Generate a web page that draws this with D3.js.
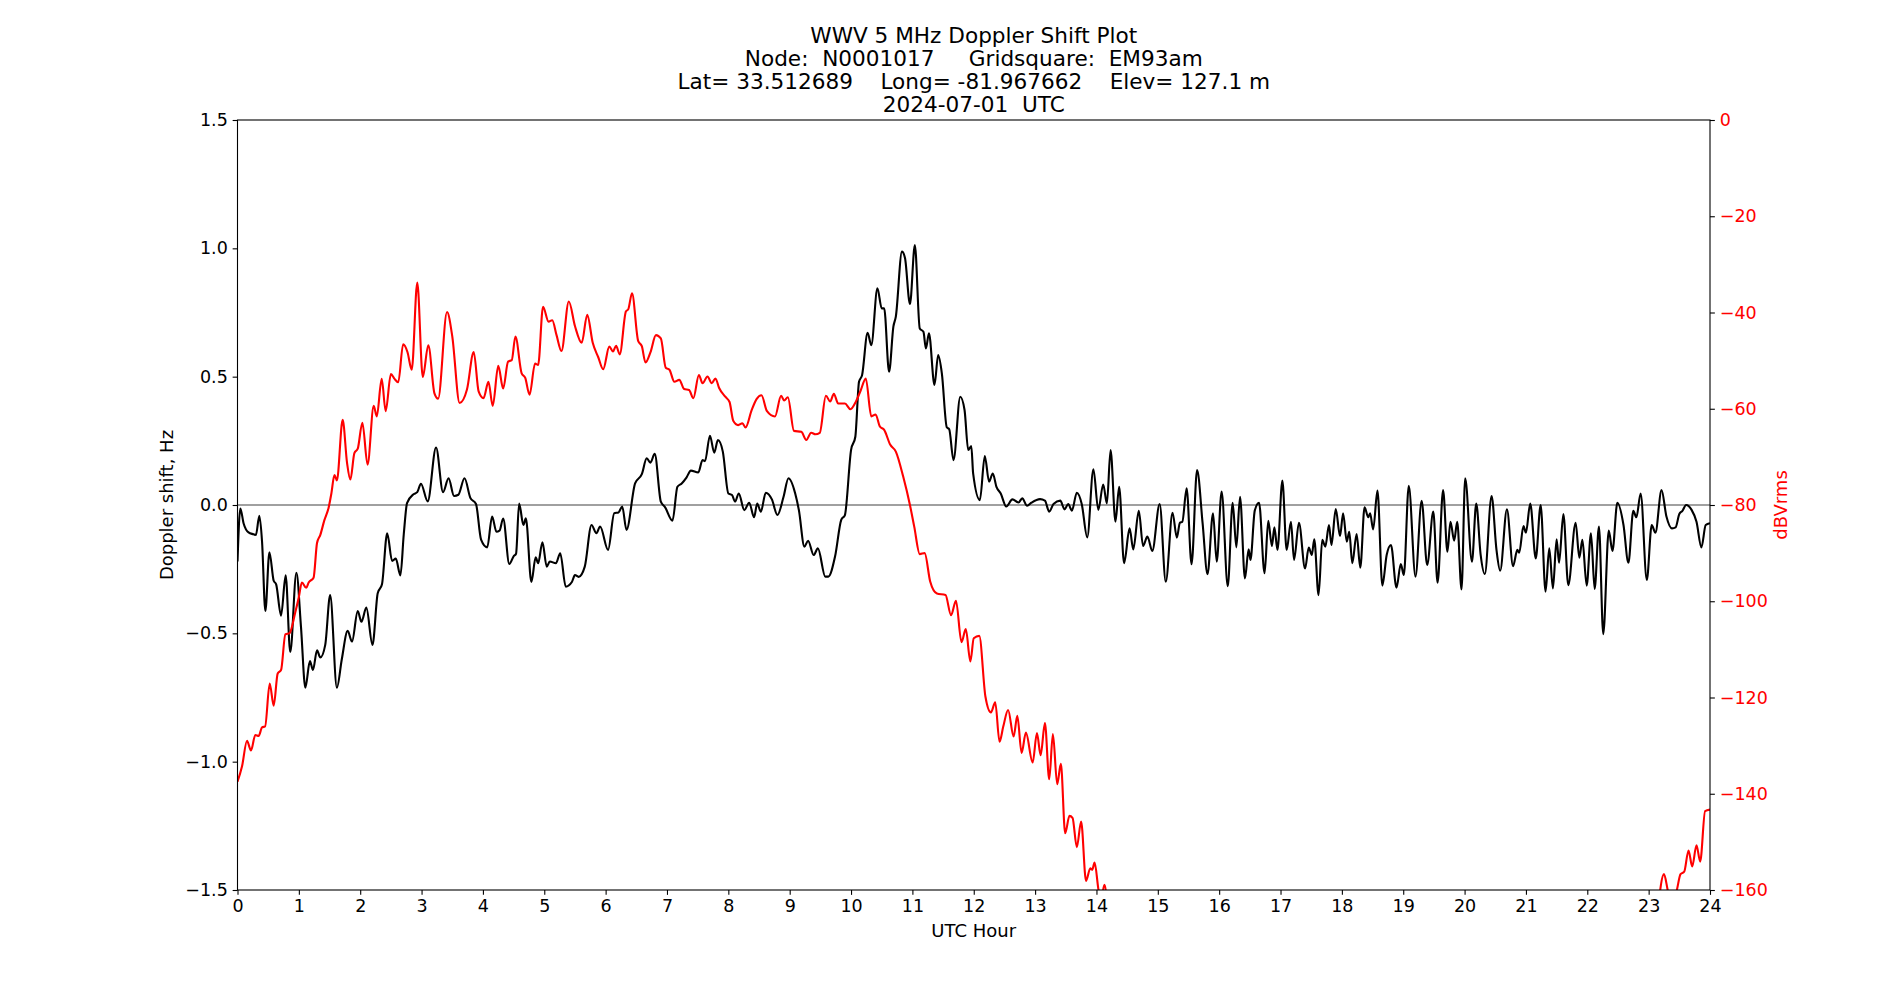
<!DOCTYPE html>
<html>
<head>
<meta charset="utf-8">
<script src="https://cdn.jsdelivr.net/npm/d3@7"></script>
<style>
  body { margin: 0; background: #fff; }
  text { font-family: "DejaVu Sans", sans-serif; }
</style>
</head>
<body>
<div id="chart"></div>
<script>
// title lines
const titleLines = [
  "WWV 5 MHz Doppler Shift Plot",
  "Node:  N0001017     Gridsquare:  EM93am",
  "Lat= 33.512689    Long= -81.967662    Elev= 127.1 m",
  "2024-07-01  UTC"
];

// doppler shift (Hz)
const dopplerHours = [0.00,0.046,0.10,0.18,0.26,0.30,0.356,0.40,0.454,0.52,0.59,0.63,0.71,0.785,0.86,0.96,1.035,1.106,1.18,1.23,1.296,1.35,1.43,1.51,1.62,1.70,1.796,1.866,1.96,2.02,2.10,2.20,2.285,2.355,2.44,2.52,2.58,2.655,2.71,2.763,2.87,2.93,2.99,3.10,3.236,3.35,3.44,3.53,3.60,3.70,3.795,3.887,3.97,4.07,4.15,4.22,4.27,4.33,4.43,4.50,4.54,4.59,4.66,4.70,4.79,4.86,4.90,4.97,5.04,5.09,5.19,5.26,5.35,5.45,5.50,5.56,5.66,5.77,5.85,5.91,6.04,6.14,6.21,6.27,6.34,6.48,6.59,6.67,6.73,6.80,6.90,6.97,7.09,7.17,7.24,7.32,7.39,7.51,7.58,7.62,7.70,7.77,7.83,7.91,8.00,8.06,8.11,8.17,8.26,8.34,8.42,8.47,8.53,8.61,8.71,8.80,8.90,8.98,9.09,9.15,9.24,9.30,9.39,9.46,9.58,9.63,9.74,9.84,9.90,10.00,10.07,10.13,10.18,10.27,10.33,10.43,10.50,10.54,10.62,10.69,10.73,10.83,10.88,10.96,11.04,11.12,11.18,11.22,11.27,11.36,11.42,11.48,11.56,11.60,11.67,11.78,11.85,11.91,11.96,11.99,12.10,12.18,12.25,12.31,12.37,12.44,12.53,12.63,12.73,12.79,12.87,12.94,13.08,13.16,13.23,13.30,13.41,13.48,13.54,13.60,13.68,13.76,13.85,13.95,14.03,14.11,14.17,14.23,14.31,14.37,14.45,14.54,14.60,14.69,14.76,14.83,14.91,15.03,15.13,15.24,15.31,15.36,15.40,15.47,15.55,15.64,15.73,15.81,15.90,15.96,16.04,16.14,16.22,16.28,16.34,16.42,16.48,16.51,16.58,16.65,16.74,16.80,16.86,16.90,16.95,17.03,17.10,17.17,17.22,17.30,17.40,17.46,17.51,17.55,17.62,17.68,17.73,17.79,17.83,17.90,17.97,18.02,18.08,18.12,18.17,18.24,18.30,18.37,18.43,18.46,18.51,18.58,18.66,18.73,18.80,18.89,18.96,19.01,19.09,19.20,19.30,19.39,19.49,19.56,19.65,19.72,19.77,19.83,19.88,19.95,20.01,20.12,20.19,20.26,20.33,20.44,20.52,20.58,20.69,20.79,20.86,20.89,20.96,21.00,21.07,21.16,21.24,21.32,21.38,21.44,21.50,21.54,21.61,21.69,21.81,21.87,21.92,21.99,22.06,22.12,22.19,22.26,22.35,22.41,22.49,22.59,22.67,22.75,22.80,22.87,22.97,23.05,23.11,23.21,23.29,23.38,23.44,23.50,23.55,23.61,23.70,23.78,23.86,23.93,24.00];
const dopplerHz = [-0.22,-0.014,-0.072,-0.107,-0.114,-0.117,-0.042,-0.142,-0.413,-0.184,-0.295,-0.309,-0.431,-0.274,-0.573,-0.264,-0.476,-0.712,-0.608,-0.643,-0.566,-0.594,-0.545,-0.351,-0.712,-0.601,-0.49,-0.532,-0.413,-0.455,-0.40,-0.545,-0.344,-0.309,-0.11,-0.218,-0.209,-0.274,-0.114,0.007,0.042,0.05,0.083,0.014,0.224,0.05,0.104,0.035,0.04,0.104,0.028,0.004,-0.135,-0.165,-0.045,-0.104,-0.10,-0.053,-0.23,-0.20,-0.19,0.006,-0.078,-0.052,-0.30,-0.204,-0.227,-0.145,-0.24,-0.22,-0.227,-0.188,-0.318,-0.30,-0.273,-0.28,-0.24,-0.078,-0.11,-0.084,-0.175,-0.032,-0.029,-0.006,-0.097,0.084,0.12,0.182,0.165,0.199,0.013,-0.009,-0.061,0.071,0.084,0.108,0.134,0.127,0.175,0.171,0.27,0.204,0.253,0.208,0.045,0.039,0.013,0.045,-0.02,0.009,-0.048,0.006,-0.026,0.048,0.022,-0.039,0.032,0.104,0.045,-0.02,-0.162,-0.139,-0.195,-0.169,-0.279,-0.279,-0.20,-0.058,-0.039,0.214,0.266,0.48,0.506,0.671,0.623,0.844,0.766,0.766,0.519,0.695,0.734,0.987,0.961,0.783,1.013,0.688,0.675,0.61,0.669,0.468,0.584,0.513,0.303,0.295,0.175,0.422,0.37,0.214,0.23,0.123,0.019,0.191,0.091,0.123,0.071,0.045,-0.006,0.022,0.01,0.026,-0.003,0.009,0.023,0.017,-0.026,0.004,0.017,-0.017,0.004,-0.022,0.048,0.004,-0.126,0.139,-0.019,0.08,0.006,0.214,-0.065,0.071,-0.227,-0.091,-0.173,-0.023,-0.16,-0.123,-0.179,0.004,-0.299,-0.03,-0.127,-0.069,-0.065,0.065,-0.231,0.136,-0.071,-0.27,-0.032,-0.221,0.052,-0.316,0.009,-0.165,0.032,-0.286,-0.173,-0.214,-0.022,0.009,-0.266,-0.062,-0.16,-0.087,-0.175,0.095,-0.175,-0.065,-0.214,-0.069,-0.247,-0.166,-0.195,-0.134,-0.351,-0.136,-0.162,-0.078,-0.156,-0.016,-0.121,-0.032,-0.143,-0.104,-0.227,-0.113,-0.244,-0.009,-0.048,-0.032,-0.095,0.056,-0.314,-0.195,-0.156,-0.322,-0.23,-0.273,0.075,-0.279,0.016,-0.234,-0.026,-0.303,0.058,-0.182,-0.065,-0.139,-0.065,-0.329,0.104,-0.221,0.006,-0.19,-0.269,0.035,-0.175,-0.256,-0.017,-0.238,-0.175,-0.186,-0.082,-0.108,0.006,-0.208,0.0,-0.338,-0.169,-0.325,-0.134,-0.225,-0.035,-0.312,-0.069,-0.205,-0.136,-0.314,-0.11,-0.327,-0.084,-0.503,-0.10,-0.179,0.009,-0.078,-0.225,-0.023,-0.048,0.045,-0.292,-0.078,-0.108,0.058,-0.045,-0.091,-0.087,-0.035,-0.023,0.0,-0.019,-0.065,-0.165,-0.078,-0.071];

// received level (dBVrms); null = below the plot floor
const powerHours = [0.00,0.074,0.155,0.22,0.29,0.345,0.40,0.45,0.525,0.59,0.655,0.71,0.78,0.85,0.94,1.0,1.05,1.12,1.16,1.24,1.296,1.35,1.415,1.486,1.53,1.58,1.62,1.714,1.785,1.84,1.905,1.96,2.035,2.12,2.22,2.27,2.35,2.415,2.50,2.56,2.62,2.70,2.77,2.84,2.93,3.02,3.11,3.21,3.27,3.415,3.50,3.62,3.74,3.85,3.93,4.01,4.09,4.16,4.25,4.33,4.41,4.47,4.53,4.63,4.69,4.76,4.85,4.90,4.98,5.07,5.13,5.20,5.28,5.40,5.50,5.61,5.70,5.79,5.88,5.96,6.06,6.12,6.17,6.23,6.33,6.37,6.43,6.53,6.59,6.65,6.73,6.82,6.90,6.98,7.04,7.12,7.20,7.28,7.36,7.43,7.52,7.58,7.66,7.73,7.79,7.85,7.95,8.02,8.08,8.16,8.23,8.28,8.38,8.46,8.54,8.63,8.76,8.86,8.91,8.97,9.07,9.19,9.27,9.35,9.42,9.49,9.59,9.66,9.72,9.79,9.90,9.99,10.08,10.16,10.24,10.33,10.40,10.47,10.54,10.64,10.73,10.85,10.96,11.03,11.12,11.20,11.29,11.40,11.54,11.63,11.71,11.80,11.87,11.945,12.00,12.09,12.19,12.28,12.35,12.42,12.48,12.56,12.65,12.71,12.78,12.85,12.96,13.03,13.09,13.16,13.23,13.29,13.36,13.42,13.49,13.56,13.61,13.68,13.75,13.83,13.90,13.93,13.97,14.03,14.07,14.13,14.18,14.5,23.0,23.15,23.25,23.32,23.38,23.45,23.52,23.58,23.65,23.71,23.78,23.84,23.92,24.00];
const powerDb = [-137.5,-134.3,-129.0,-131.0,-127.8,-128.0,-126.2,-126.0,-117.1,-121.7,-115.0,-114.3,-106.9,-106.6,-102.4,-99.1,-96.1,-97.2,-96.1,-95.1,-87.9,-86.2,-83.2,-80.5,-77.6,-73.8,-74.9,-62.3,-71.2,-74.7,-69.2,-68.3,-62.9,-71.6,-59.4,-61.6,-53.8,-60.5,-52.8,-53.8,-54.5,-46.6,-48.2,-51.9,-33.8,-53.4,-46.8,-56.8,-57.9,-39.9,-44.9,-58.8,-56.0,-48.2,-56.4,-57.8,-54.4,-59.4,-51.1,-55.8,-50.2,-49.9,-45.0,-52.6,-53.6,-57.1,-50.6,-50.9,-38.8,-41.9,-41.6,-44.7,-48.0,-37.7,-42.8,-46.3,-40.5,-46.3,-49.3,-51.8,-47.1,-48.1,-46.9,-48.7,-39.8,-39.3,-36.0,-45.9,-47.0,-50.4,-48.3,-44.7,-45.4,-51.5,-51.9,-54.4,-54.0,-55.9,-56.1,-57.8,-53.0,-54.7,-53.3,-54.7,-53.7,-55.7,-57.5,-58.6,-62.5,-63.4,-63.0,-63.9,-60.3,-58.0,-57.2,-60.5,-61.6,-57.3,-58.3,-57.6,-64.6,-64.8,-66.5,-65.0,-65.3,-65.0,-57.3,-58.5,-56.9,-58.9,-58.9,-60.1,-58.5,-56.1,-53.7,-61.6,-61.2,-63.7,-64.4,-67.5,-68.9,-74.1,-80.0,-84.5,-90.2,-90.0,-95.9,-98.4,-98.7,-102.9,-99.9,-108.5,-105.8,-112.5,-107.7,-107.2,-119.8,-123.1,-121.0,-129.2,-126.1,-122.6,-128.1,-123.8,-131.5,-127.3,-133.5,-127.4,-132.0,-125.3,-137.0,-127.6,-138.0,-133.8,-148.2,-144.6,-145.0,-151.1,-145.8,-158.1,-155.5,-155.8,-154.3,-159.7,-162.5,-158.9,-164,null,null,-164,-156.7,-160.5,-162,-160.5,-156.7,-156.2,-151.8,-155.1,-150.7,-154.1,-143.6,-143.3];

const hourTicks = d3.range(0, 25, 1);
const hzTicks = [-1.5, -1.0, -0.5, 0.0, 0.5, 1.0, 1.5];
const dbTicks = [0, -20, -40, -60, -80, -100, -120, -140, -160];

const width = 1900;
const height = 1000;
const margin = { left: 237.5, right: 190, top: 120, bottom: 110 };
const innerW = width - margin.left - margin.right;
const innerH = height - margin.top - margin.bottom;
const tickFont = 17.5;
const labelFont = 18;
const titleFont = 21.6;

const svg = d3.select("#chart")
  .append("svg")
  .attr("width", width)
  .attr("height", height)
  .style("background", "#fff");

const x = d3.scaleLinear().domain([0, 24]).range([margin.left, margin.left + innerW]);
const yHz = d3.scaleLinear().domain([-1.5, 1.5]).range([margin.top + innerH, margin.top]);
const yDb = d3.scaleLinear().domain([-160, 0]).range([margin.top + innerH, margin.top]);

svg.append("clipPath").attr("id", "plot-clip")
  .append("rect")
  .attr("x", margin.left).attr("y", margin.top)
  .attr("width", innerW).attr("height", innerH);

const plot = svg.append("g").attr("clip-path", "url(#plot-clip)");

// zero reference line
plot.append("line")
  .attr("x1", margin.left).attr("x2", margin.left + innerW)
  .attr("y1", yHz(0)).attr("y2", yHz(0))
  .attr("stroke", "#808080")
  .attr("stroke-width", 1.4);

const dopplerData = dopplerHours.map((h, i) => ({ h: h, v: dopplerHz[i] }));
const powerData = powerHours.map((h, i) => ({ h: h, v: powerDb[i] }));

const dopplerLine = d3.line()
  .x(d => x(d.h))
  .y(d => yHz(d.v))
  .curve(d3.curveMonotoneX);

const powerLine = d3.line()
  .defined(d => d.v != null)
  .x(d => x(d.h))
  .y(d => yDb(d.v))
  .curve(d3.curveMonotoneX);

plot.append("path")
  .datum(dopplerData)
  .attr("d", dopplerLine)
  .attr("fill", "none")
  .attr("stroke", "#000")
  .attr("stroke-width", 2.1)
  .attr("stroke-linejoin", "round");

plot.append("path")
  .datum(powerData)
  .attr("d", powerLine)
  .attr("fill", "none")
  .attr("stroke", "#ff0000")
  .attr("stroke-width", 2.1)
  .attr("stroke-linejoin", "round");

// axes
const tickLen = 4.86;

function styleAxis(g, color) {
  g.select(".domain").remove();
  g.selectAll(".tick line").attr("stroke", "#000").attr("stroke-width", 1.1);
  g.selectAll(".tick text")
    .attr("fill", color)
    .style("font-family", "'DejaVu Sans', sans-serif")
    .style("font-size", tickFont + "px");
}

svg.append("g")
  .attr("transform", `translate(0,${margin.top + innerH})`)
  .call(d3.axisBottom(x).tickValues(hourTicks).tickFormat(d3.format("d"))
    .tickSize(tickLen).tickPadding(tickLen))
  .call(g => styleAxis(g, "#000"));

svg.append("g")
  .attr("transform", `translate(${margin.left},0)`)
  .call(d3.axisLeft(yHz).tickValues(hzTicks).tickFormat(d3.format(".1f"))
    .tickSize(tickLen).tickPadding(tickLen))
  .call(g => styleAxis(g, "#000"));

svg.append("g")
  .attr("transform", `translate(${margin.left + innerW},0)`)
  .call(d3.axisRight(yDb).tickValues(dbTicks).tickFormat(d3.format("d"))
    .tickSize(tickLen).tickPadding(tickLen))
  .call(g => styleAxis(g, "#ff0000"));

// frame
svg.append("rect")
  .attr("x", margin.left).attr("y", margin.top)
  .attr("width", innerW).attr("height", innerH)
  .attr("fill", "none")
  .attr("stroke", "#000")
  .attr("stroke-width", 1.1);

// axis labels
svg.append("text")
  .attr("x", margin.left + innerW / 2)
  .attr("y", 937)
  .attr("text-anchor", "middle")
  .style("font-size", labelFont + "px")
  .text("UTC Hour");

svg.append("text")
  .attr("transform", `translate(173,${margin.top + innerH / 2}) rotate(-90)`)
  .attr("text-anchor", "middle")
  .style("font-size", labelFont + "px")
  .text("Doppler shift, Hz");

svg.append("text")
  .attr("transform", `translate(1787,${margin.top + innerH / 2}) rotate(-90)`)
  .attr("text-anchor", "middle")
  .attr("fill", "#ff0000")
  .style("font-size", labelFont + "px")
  .text("dBVrms");

// title
svg.append("g")
  .selectAll("text")
  .data(titleLines)
  .join("text")
  .attr("x", margin.left + innerW / 2)
  .attr("y", (d, i) => 42.5 + i * 23)
  .attr("text-anchor", "middle")
  .style("white-space", "pre")
  .style("font-size", titleFont + "px")
  .text(d => d);
</script>
</body>
</html>
